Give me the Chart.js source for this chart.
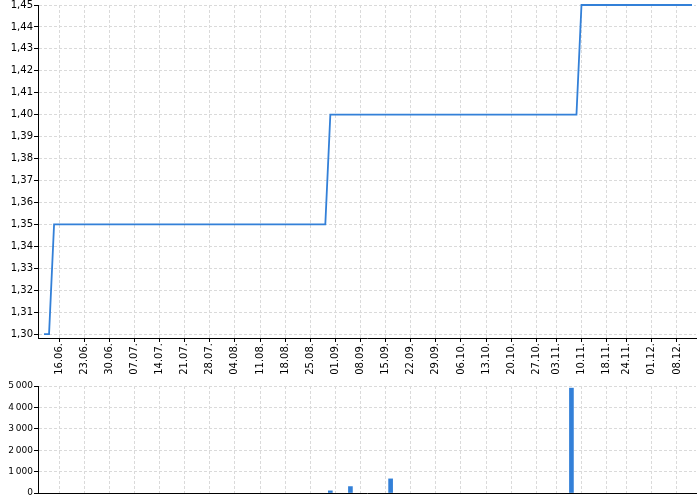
<!DOCTYPE html>
<html>
<head>
<meta charset="utf-8">
<script src="https://cdn.jsdelivr.net/npm/chart.js@4"></script>
<style>
  body { margin: 0; background: #fff; }
  canvas { display: block; }
</style>
</head>
<body>
<canvas id="js-price-chart" width="700" height="378"></canvas>
<canvas id="js-volume-chart" width="700" height="122"></canvas>
<script>
"use strict";
{
  // 取引日 (2014)
  const DATES = [
    "11.06.", "12.06.", "13.06.", "16.06.", "17.06.", "18.06.", "19.06.", "20.06.", "23.06.", "24.06.", "25.06.", "26.06.", "27.06.", "30.06.",
    "01.07.", "02.07.", "03.07.", "04.07.", "07.07.", "08.07.", "09.07.", "10.07.", "11.07.", "14.07.", "15.07.", "16.07.", "17.07.", "18.07.", "21.07.", "22.07.", "23.07.", "24.07.", "25.07.", "28.07.", "29.07.", "30.07.", "31.07.",
    "01.08.", "04.08.", "05.08.", "06.08.", "07.08.", "08.08.", "11.08.", "12.08.", "13.08.", "14.08.", "15.08.", "18.08.", "19.08.", "20.08.", "21.08.", "22.08.", "25.08.", "26.08.", "27.08.", "28.08.", "29.08.",
    "01.09.", "02.09.", "03.09.", "04.09.", "05.09.", "08.09.", "09.09.", "10.09.", "11.09.", "12.09.", "15.09.", "16.09.", "17.09.", "18.09.", "19.09.", "22.09.", "23.09.", "24.09.", "25.09.", "26.09.", "29.09.", "30.09.",
    "01.10.", "02.10.", "03.10.", "06.10.", "07.10.", "08.10.", "09.10.", "10.10.", "13.10.", "14.10.", "15.10.", "16.10.", "17.10.", "20.10.", "21.10.", "22.10.", "23.10.", "24.10.", "27.10.", "29.10.", "30.10.", "31.10.",
    "03.11.", "04.11.", "05.11.", "06.11.", "07.11.", "10.11.", "11.11.", "12.11.", "13.11.", "14.11.", "18.11.", "19.11.", "20.11.", "21.11.", "24.11.", "25.11.", "26.11.", "27.11.", "28.11.",
    "01.12.", "02.12.", "03.12.", "04.12.", "05.12.", "08.12.", "09.12.", "10.12.", "11.12.",
  ];

  const PRICES = [
    1.30, 1.30, 1.35, 1.35, 1.35, 1.35, 1.35, 1.35, 1.35, 1.35, 1.35, 1.35, 1.35, 1.35,
    1.35, 1.35, 1.35, 1.35, 1.35, 1.35, 1.35, 1.35, 1.35, 1.35, 1.35, 1.35, 1.35, 1.35, 1.35, 1.35, 1.35, 1.35, 1.35, 1.35, 1.35, 1.35, 1.35,
    1.35, 1.35, 1.35, 1.35, 1.35, 1.35, 1.35, 1.35, 1.35, 1.35, 1.35, 1.35, 1.35, 1.35, 1.35, 1.35, 1.35, 1.35, 1.35, 1.35, 1.40,
    1.40, 1.40, 1.40, 1.40, 1.40, 1.40, 1.40, 1.40, 1.40, 1.40, 1.40, 1.40, 1.40, 1.40, 1.40, 1.40, 1.40, 1.40, 1.40, 1.40, 1.40, 1.40,
    1.40, 1.40, 1.40, 1.40, 1.40, 1.40, 1.40, 1.40, 1.40, 1.40, 1.40, 1.40, 1.40, 1.40, 1.40, 1.40, 1.40, 1.40, 1.40, 1.40, 1.40, 1.40,
    1.40, 1.40, 1.40, 1.40, 1.40, 1.45, 1.45, 1.45, 1.45, 1.45, 1.45, 1.45, 1.45, 1.45, 1.45, 1.45, 1.45, 1.45, 1.45,
    1.45, 1.45, 1.45, 1.45, 1.45, 1.45, 1.45, 1.45, 1.45,
  ];

  const WEEK_TICKS = [
    "16.06.", "23.06.", "30.06.", "07.07.", "14.07.", "21.07.", "28.07.", "04.08.", "11.08.", "18.08.", "25.08.", "01.09.", "08.09.",
    "15.09.", "22.09.", "29.09.", "06.10.", "13.10.", "20.10.", "27.10.", "03.11.", "10.11.", "18.11.", "24.11.", "01.12.", "08.12.",
  ];
  const PRICE_TICKS = [1.30, 1.31, 1.32, 1.33, 1.34, 1.35, 1.36, 1.37, 1.38, 1.39, 1.40, 1.41, 1.42, 1.43, 1.44, 1.45];

  const VOLUME_DAYS = ["29.08.", "04.09.", "16.09.", "06.11."];
  const VOLUMES = [100, 300, 660, 4900];
  const VOLUME_TICKS = [0, 1000, 2000, 3000, 4000, 5000];

  const LINE_COLOR = "#3380d8";
  const GRID_COLOR = "#dadada";

  Chart.defaults.font.family = "'DejaVu Sans', sans-serif";
  Chart.defaults.font.size = 10;
  Chart.defaults.color = "#000";

  const weekIndexes = WEEK_TICKS.map((d) => DATES.indexOf(d));

  function xAxis(showLabels) {
    return {
      type: "linear",
      offset: false,
      min: -1.2,
      max: DATES.length - 1 + 0.8,
      afterBuildTicks: (scale) => {
        scale.ticks = weekIndexes.map((v) => ({ value: v }));
      },
      afterFit: (scale) => {
        scale.height = showLabels ? 40 : 7;
        scale.paddingLeft = 0;
        scale.paddingRight = 0;
      },
      grid: {
        offset: false,
        color: GRID_COLOR,
        drawTicks: showLabels,
        tickLength: 4,
        tickColor: "#000",
        tickBorderDash: [],
      },
      border: { color: "#000", dash: [3, 2] },
      ticks: {
        display: showLabels,
        autoSkip: false,
        minRotation: 90,
        maxRotation: 90,
        padding: 1,
        callback: (value) => DATES[value],
      },
    };
  }

  function yAxis(min, max, tickValues, fontSize, format) {
    return {
      min: min,
      max: max,
      afterBuildTicks: (scale) => {
        scale.ticks = tickValues.map((v) => ({ value: v }));
      },
      afterFit: (scale) => {
        scale.width = 38;
        scale.paddingTop = 0;
        scale.paddingBottom = 0;
      },
      grid: {
        color: GRID_COLOR,
        tickLength: 4,
        tickColor: "#000",
        tickBorderDash: [],
      },
      border: { color: "#000", dash: [3, 2] },
      ticks: {
        autoSkip: false,
        padding: 1,
        font: { size: fontSize },
        callback: format,
      },
    };
  }

  //株価チャート
  new Chart(document.getElementById("js-price-chart"), {
    type: "line",
    data: {
      datasets: [
        {
          data: PRICES.map((p, i) => ({ x: i, y: p })),
          borderColor: LINE_COLOR,
          borderWidth: 1.8,
          pointRadius: 0,
          tension: 0,
          fill: false,
          clip: 4,
        },
      ],
    },
    options: {
      responsive: false,
      animation: false,
      layout: { padding: { top: 5, right: 4, left: 0, bottom: 0 } },
      scales: {
        x: xAxis(true),
        y: yAxis(1.2982, 1.45, PRICE_TICKS, 10, (value) => value.toFixed(2).replace(".", ",")),
      },
      plugins: {
        legend: { display: false },
        tooltip: { enabled: false },
      },
    },
  });

  //出来高チャート
  new Chart(document.getElementById("js-volume-chart"), {
    type: "bar",
    data: {
      datasets: [
        {
          data: VOLUME_DAYS.map((d, i) => ({ x: DATES.indexOf(d), y: VOLUMES[i] })),
          backgroundColor: LINE_COLOR,
          barThickness: 4,
        },
      ],
    },
    options: {
      responsive: false,
      animation: false,
      layout: { padding: { top: 8, right: 4, left: 0, bottom: 0 } },
      scales: {
        x: xAxis(false),
        y: yAxis(0, 5000, VOLUME_TICKS, 9, (value) =>
          String(value).replace(/\B(?=(\d{3})+(?!\d))/g, "\u2009")
        ),
      },
      plugins: {
        legend: { display: false },
        tooltip: { enabled: false },
      },
    },
  });
}
</script>
</body>
</html>
